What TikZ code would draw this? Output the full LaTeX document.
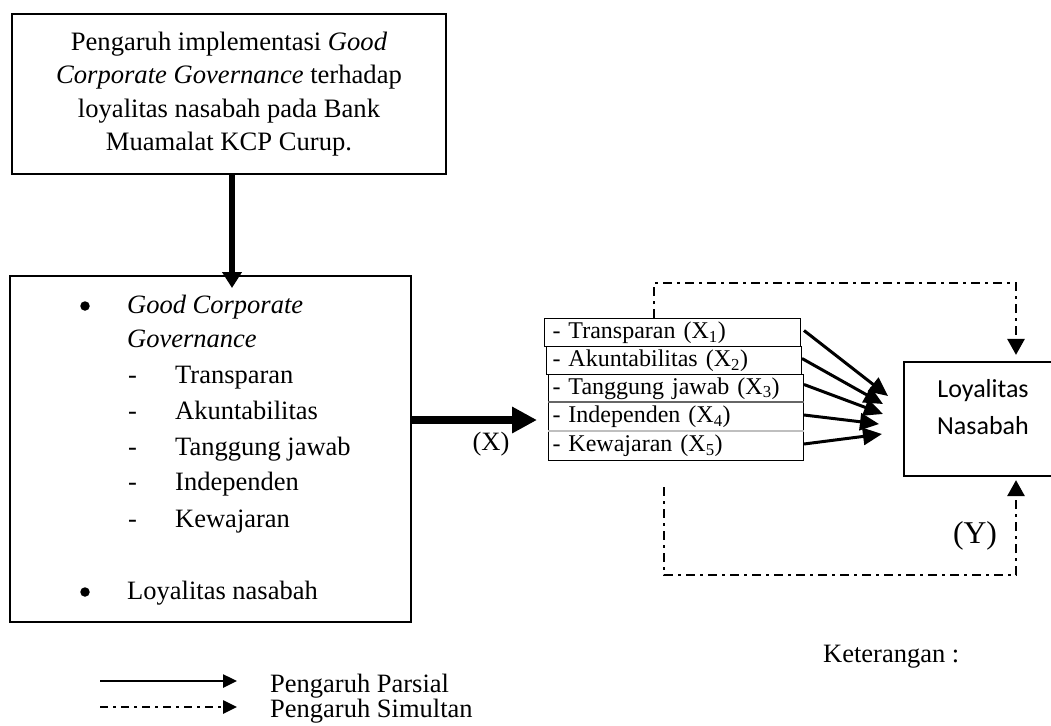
\documentclass[tikz,border=0pt]{standalone}
\usepackage{fontspec}
\setmainfont{Liberation Serif}
\newfontfamily\calibri{Carlito}
\usetikzlibrary{arrows.meta}
\tikzset{
  bigbox/.style={draw, line width=2pt, inner sep=0pt},
  sbox/.style={draw, line width=1pt, anchor=north west, align=left, inner ysep=0pt,
    font=\fontsize{24}{28}\selectfont},
  txt/.style={inner sep=0pt, anchor=base west, font=\fontsize{26.5}{33}\selectfont},
  dot/.style={circle, fill=black, inner sep=0pt, minimum size=9.5pt},
  parsial/.style={line width=3pt, -{Triangle[length=19pt,width=17pt]}},
  simul/.style={line width=2.8pt, dash pattern=on 9pt off 5pt on 3pt off 5pt,
    -{Triangle[length=16pt,width=17pt]}},
  legsol/.style={line width=2.5pt, -{Triangle[length=14pt,width=13pt]}},
  legsim/.style={line width=2.6pt, dash pattern=on 8pt off 5pt on 3pt off 5pt,
    -{Triangle[length=14pt,width=13pt]}},
}
\begin{document}
\begin{tikzpicture}[x=1pt,y=-1pt]
\useasboundingbox (0,0) rectangle (1051,725);

% top box
\node[bigbox, minimum width=434pt, minimum height=160pt, align=center,
  font=\fontsize{26.6}{33.3}\selectfont] (top) at (229,94)
  {Pengaruh implementasi \textit{Good}\\ \textit{Corporate Governance} terhadap\\ loyalitas nasabah pada Bank\\ Muamalat KCP Curup.};

% left box
\node[bigbox, minimum width=401pt, minimum height=346pt] (lb) at (210.5,449) {};
\node[dot] (bu1) at (85,306) {};
\node[txt] (g1) at (127,313) {\textit{Good Corporate}};
\node[txt] (g2) at (127,347) {\textit{Governance}};
\node[txt] (d1) at (128,383) {-};
\node[txt] (i1) at (175,383) {Transparan};
\node[txt] (d2) at (128,419) {-};
\node[txt] (i2) at (175,419) {Akuntabilitas};
\node[txt] (d3) at (128,455) {-};
\node[txt] (i3) at (175,455) {Tanggung jawab};
\node[txt] (d4) at (128,490) {-};
\node[txt] (i4) at (175,490) {Independen};
\node[txt] (d5) at (128,527) {-};
\node[txt] (i5) at (175,527) {Kewajaran};
\node[dot] (bu2) at (85,592) {};
\node[txt] (ln) at (127,599) {Loyalitas nasabah};

% down arrow
\coordinate (dtip) at (232,288);
\draw[line width=5.5pt, -{Triangle[length=16pt,width=19pt]}] ([xshift=3pt]top.south) -- (dtip);

% small boxes
\node[sbox, inner xsep=8pt, text width=240pt, minimum height=28pt] (b1) at (544,318) {- Transparan (X\textsubscript{1})};
\node[sbox, inner xsep=6pt, text width=243pt, minimum height=28pt] (b2) at (546,346) {- Akuntabilitas (X\textsubscript{2})};
\node[sbox, inner xsep=4pt, text width=247pt, minimum height=28pt] (b3) at (548,374) {- Tanggung jawab (X\textsubscript{3})};
\node[sbox, inner xsep=4pt, text width=247pt, minimum height=29pt] (b4) at (548,402) {- Independen (X\textsubscript{4})};
\node[sbox, inner xsep=4pt, text width=247pt, minimum height=29pt] (b5) at (548,431) {- Kewajaran (X\textsubscript{5})};
\draw[gray!80!black, line width=1.5pt] (b4.north west) -- (b4.north east);
\draw[gray!50, line width=2pt] (b5.north west) -- (b5.north east);

% thick horizontal arrow
\coordinate (xtip) at (537,420);
\draw[line width=8pt, -{Triangle[length=25pt,width=25pt]}] (lb.east |- xtip) -- (xtip);
\node[txt, anchor=base] (xl) at (491,450) {(X)};

% Loyalitas box
\node[draw, line width=2.2pt, minimum width=156pt, minimum height=114pt] (ly) at (982,419) {};
\node[align=center, inner sep=0pt, font=\calibri\fontsize{26}{37}\selectfont] (lyt) at (983,407.5) {Loyalitas\\Nasabah};

% partial arrows
\coordinate (e1) at (888,396);
\coordinate (e2) at (883,404);
\coordinate (e3) at (883,414);
\coordinate (e4) at (879,424);
\coordinate (e5) at (882,434);
\draw[parsial] ([xshift=3pt,yshift=2pt]b1.east) -- (e1);
\draw[parsial] ([yshift=2pt]b2.east) -- (e2);
\draw[parsial] ([yshift=4pt]b3.east) -- (e3);
\draw[parsial] ([yshift=2pt]b4.east) -- (e4);
\draw[parsial] ([yshift=2pt]b5.east) -- (e5);

% simultaneous paths
\coordinate (t1) at (654,318);
\coordinate (tc) at (1016,283);
\draw[simul, shorten >=6pt] (t1) |- (tc) -- (tc |- ly.north);
\coordinate (u1) at (664,487);
\coordinate (uc) at (1016,575);
\draw[simul, shorten >=3pt] (u1) |- (uc) -- (uc |- ly.south);
\node[inner sep=0pt, anchor=base, font=\fontsize{31.7}{36}\selectfont] (yl) at (975,543) {(Y)};

% legend
\node[txt] (ket) at (823,662) {Keterangan :};
\coordinate (l1a) at (100,681);
\coordinate (l1b) at (237,681);
\coordinate (l2a) at (100,707);
\coordinate (l2b) at (237,707);
\draw[legsol] (l1a) -- (l1b);
\draw[legsim] (l2a) -- (l2b);
\node[txt] (lp) at (270,692) {Pengaruh Parsial};
\node[txt] (ls) at (270,717) {Pengaruh Simultan};
\end{tikzpicture}
\end{document}
